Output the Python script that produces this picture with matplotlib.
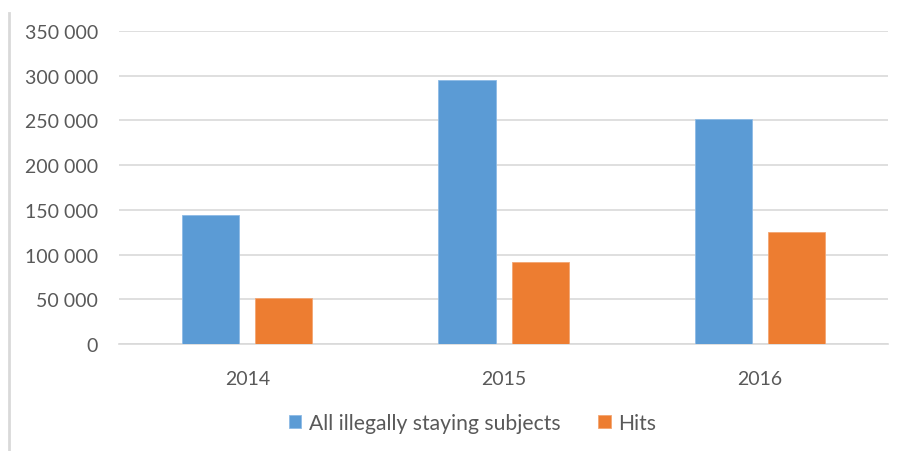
import matplotlib.pyplot as plt
import numpy as np
from matplotlib.lines import Line2D

# Datos
years = ['2014', '2015', '2016']
all_illegal = [144000, 295000, 252000]
hits = [51500, 92000, 125000]
y_ticks = [0, 50000, 100000, 150000, 200000, 250000, 300000, 350000]

blue = '#5B9BD5'
orange = '#ED7D31'
txt = '#595959'
grid_c = '#D9D9D9'

plt.rcParams['font.family'] = ['Lato', 'DejaVu Sans']

fig = plt.figure(figsize=(9.02, 4.52), dpi=100)
ax = fig.add_axes([0.132, 0.2367, 0.8525, 0.6923])

x = np.arange(len(years))
w = 0.223
off = (w + 0.0625) / 2
b1 = ax.bar(x - off, all_illegal, w, color=blue, edgecolor='#8DBBE6', linewidth=0.6,
            label='All illegally staying subjects', zorder=3)
b2 = ax.bar(x + off, hits, w, color=orange, edgecolor='#F3A673', linewidth=0.6,
            label='Hits', zorder=3)

ax.set_xlim(-0.5, 2.5)
ax.set_ylim(0, 350000)
ax.set_yticks(y_ticks)
ax.set_yticklabels([f'{v:,}'.replace(',', ' ') for v in y_ticks])
ax.set_xticks(x)
ax.set_xticklabels(years)
ax.tick_params(axis='both', length=0, colors=txt, labelsize=14)
ax.tick_params(axis='y', pad=15)
ax.tick_params(axis='x', pad=19)
ax.grid(axis='y', color=grid_c, linewidth=1.2, zorder=0)
for s in ['top', 'right', 'left']:
    ax.spines[s].set_visible(False)
ax.spines['bottom'].set_color(grid_c)
ax.spines['bottom'].set_linewidth(1.2)

fig.legend(handles=[b1, b2], loc='center', bbox_to_anchor=(0.524, 0.062), ncol=2,
           frameon=False, fontsize=15.2, labelcolor=txt, handlelength=0.6,
           handleheight=0.6, handletextpad=0.35, columnspacing=1.8)

# borde izquierdo del grafico
fig.add_artist(Line2D([0.0095, 0.0095], [0, 0.97], color=grid_c, linewidth=2,
                      transform=fig.transFigure))

plt.savefig('out.png', dpi=100)
